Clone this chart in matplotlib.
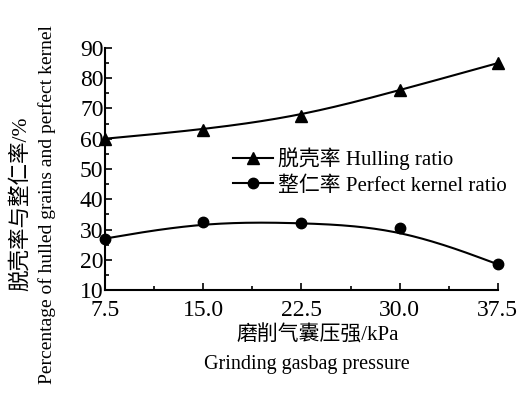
import numpy as np
import matplotlib
matplotlib.use("Agg")
import matplotlib.pyplot as plt
from matplotlib.ticker import MultipleLocator
from matplotlib.lines import Line2D

pressure = [7.5, 15.0, 22.5, 30.0, 37.5]
hulling = [60.0, 63.0, 67.5, 76.0, 85.0]
kernel = [27.0, 32.5, 32.3, 30.5, 18.5]
xticks = ["7.5", "15.0", "22.5", "30.0", "37.5"]

fam = ["Liberation Serif", "Noto Sans CJK SC"]
plt.rcParams["font.family"] = fam


def bspline(x, y, n=40):
    """Uniform cubic B-spline using the data points as control points
    (end points tripled so the curve starts/ends on them)."""
    P = np.column_stack([x, y]).astype(float)
    Q = np.vstack([P[0], P[0], P, P[-1], P[-1]])
    t = np.linspace(0, 1, n)
    B = np.column_stack([(1 - t) ** 3,
                         3 * t ** 3 - 6 * t ** 2 + 4,
                         -3 * t ** 3 + 3 * t ** 2 + 3 * t + 1,
                         t ** 3]) / 6.0
    pts = [B @ Q[i:i + 4] for i in range(len(Q) - 3)]
    pts = np.vstack(pts)
    return pts[:, 0], pts[:, 1]


fig = plt.figure(figsize=(5.17, 3.93), dpi=100)
ax = fig.add_axes([0.203, 0.262, 0.76, 0.616])

hx, hy = bspline(pressure, hulling)
kx, ky = bspline(pressure, kernel)
ax.plot(hx, hy, color="black", lw=1.5, clip_on=False)
ax.plot(kx, ky, color="black", lw=1.5, clip_on=False)
ax.plot(pressure, hulling, ls="none", marker="^", ms=8.5, color="black", clip_on=False)
ax.plot(pressure, kernel, ls="none", marker="o", ms=7.5, color="black", clip_on=False)

h1 = Line2D([], [], color="black", lw=1.5, marker="^", ms=8.5)
h2 = Line2D([], [], color="black", lw=1.5, marker="o", ms=7.5)
ax.legend([h1, h2], ["脱壳率 Hulling ratio", "整仁率 Perfect kernel ratio"],
          loc="center left", bbox_to_anchor=(0.326, 0.49), frameon=False,
          fontsize=15, handlelength=1.9, handletextpad=0.25, labelspacing=0.3,
          borderaxespad=0, borderpad=0)

ax.set_xlim(7.5, 37.5)
ax.set_ylim(10, 90)
ax.set_xticks(pressure)
ax.set_xticklabels(xticks)
ax.xaxis.set_minor_locator(MultipleLocator(3.75))
ax.yaxis.set_major_locator(MultipleLocator(10))
ax.yaxis.set_minor_locator(MultipleLocator(5))
ax.tick_params(which="both", direction="in", labelsize=17, width=1.2, color="black")
ax.tick_params(which="major", length=5)
ax.tick_params(which="minor", length=3)
ax.tick_params(axis="x", pad=7)
ax.tick_params(axis="y", pad=1)
for s in ["top", "right"]:
    ax.spines[s].set_visible(False)
for s in ["left", "bottom"]:
    ax.spines[s].set_linewidth(1.5)

fig.text(318 / 517, 1 - 336 / 393, "磨削气囊压强/kPa", ha="center", va="center", fontsize=15)
fig.text(307 / 517, 1 - 364 / 393, "Grinding gasbag pressure", ha="center", va="center", fontsize=14.5)
fig.text(21 / 517, 1 - 204 / 393, "脱壳率与整仁率/%", ha="center", va="center", fontsize=15.5, rotation=90)
fig.text(47 / 517, 1 - 205 / 393, "Percentage of hulled grains and perfect kernel", ha="center", va="center", fontsize=14, rotation=90)

fig.savefig("out.png", dpi=100)
